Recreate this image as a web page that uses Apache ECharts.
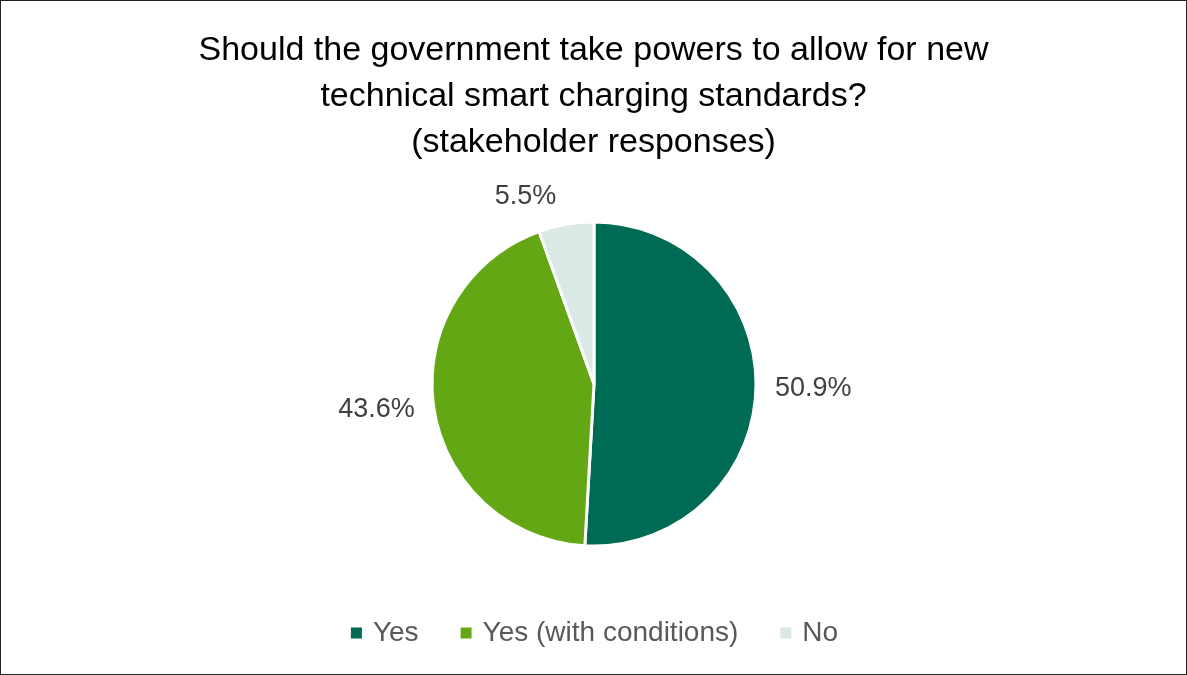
<!DOCTYPE html>
<html><head><meta charset="utf-8">
<script src="https://cdn.jsdelivr.net/npm/echarts@6/dist/echarts.min.js"></script>
<style>html,body{margin:0;padding:0;background:#fff}#c{width:1187px;height:675px;box-sizing:border-box;border:1px solid #222}</style>
</head><body><div id="c"></div>
<script>
const categories = ["Yes", "Yes (with conditions)", "No"];
const values = [50.9, 43.6, 5.5];
const colors = ["#006B54", "#63A814", "#DAE8E6"];
const titleText = "Should the government take powers to allow for new\ntechnical smart charging standards?\n(stakeholder responses)";

const chart = echarts.init(document.getElementById('c'));
chart.setOption({
  backgroundColor: '#fff',
  animation: false,
  title: {
    text: titleText, left: 'center', top: 22,
    textStyle: {fontFamily: 'Liberation Sans', fontSize: 34, fontWeight: 'normal', color: '#000', lineHeight: 46}
  },
  legend: {
    data: categories, bottom: 22, left: 'center', icon: 'rect', itemWidth: 13, itemHeight: 13, itemGap: 40,
    textStyle: {fontFamily: 'Liberation Sans', fontSize: 28, color: '#595959', padding: [0, 0, 0, 5]}
  },
  series: [{
    type: 'pie', center: [593, 383], radius: 162, startAngle: 90, clockwise: true,
    itemStyle: {borderColor: '#fff', borderWidth: 3},
    label: {show: true, position: 'outside', formatter: p => p.value.toFixed(1) + '%',
      fontFamily: 'Liberation Sans', fontSize: 27, color: '#404040'},
    labelLine: {show: false, length: 14, length2: 0},
    data: categories.map((c, i) => ({name: c, value: values[i], itemStyle: {color: colors[i]},
      labelLine: i === 2 ? {show: false, length: 28, length2: 0} : undefined}))
  }]
});
</script></body></html>
